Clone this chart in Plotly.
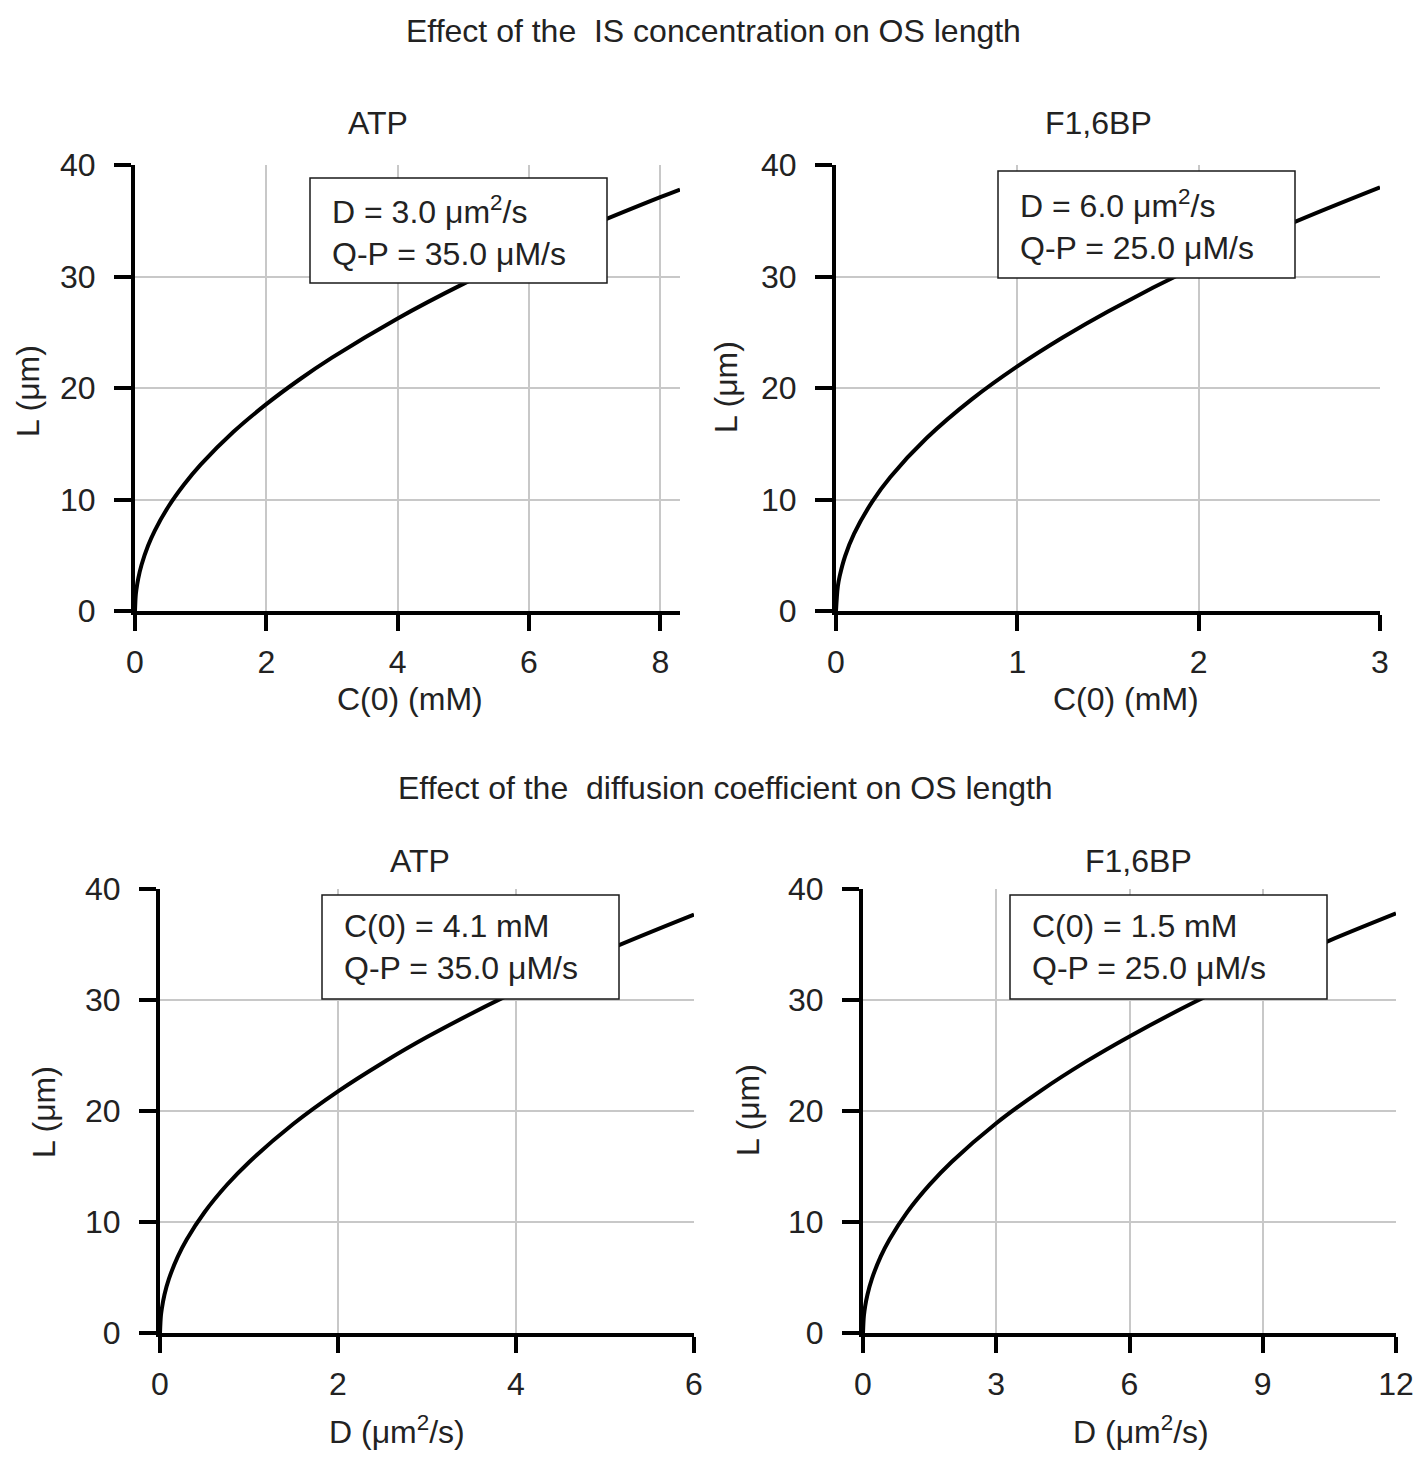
import plotly.graph_objects as go

W, H = 1425, 1457
OFF = 8  # page body margin shifts the figure

# --- data ---
# top left: ATP, L vs C(0)
atp_c0 = [0, 0.01, 0.02, 0.05, 0.1, 0.2, 0.3, 0.5, 0.75, 1, 1.5, 2, 2.5, 3, 4, 5, 6, 7, 8, 8.3]
atp_c0_L = [0, 1.31, 1.86, 2.93, 4.15, 5.87, 7.19, 9.28, 11.36, 13.12, 16.07, 18.55, 20.74,
            22.72, 26.24, 29.34, 32.14, 34.71, 37.11, 37.8]

# top right: F1,6BP, L vs C(0)
fbp_c0 = [0, 0.01, 0.02, 0.05, 0.1, 0.2, 0.3, 0.5, 0.75, 1, 1.25, 1.5, 2, 2.5, 3]
fbp_c0_L = [0, 2.19, 3.10, 4.91, 6.94, 9.81, 12.02, 15.51, 19.0, 21.94, 24.53, 26.87,
            31.03, 34.69, 38.0]

# bottom left: ATP, L vs D
atp_d = [0, 0.01, 0.02, 0.05, 0.1, 0.2, 0.3, 0.5, 0.75, 1, 1.5, 2, 2.5, 3, 4, 5, 6]
atp_d_L = [0, 1.54, 2.17, 3.44, 4.87, 6.88, 8.43, 10.88, 13.33, 15.39, 18.85, 21.77,
           24.33, 26.66, 30.78, 34.41, 37.7]

# bottom right: F1,6BP, L vs D
fbp_d = [0, 0.02, 0.05, 0.1, 0.2, 0.4, 0.6, 1, 1.5, 2, 3, 4, 5, 6, 7.5, 9, 10.5, 12]
fbp_d_L = [0, 1.54, 2.44, 3.45, 4.88, 6.90, 8.45, 10.91, 13.36, 15.43, 18.9, 21.82,
           24.4, 26.72, 29.88, 32.73, 35.35, 37.8]

section_titles = ["Effect of the  IS concentration on OS length",
                  "Effect of the  diffusion coefficient on OS length"]
panel_titles = ["ATP", "F1,6BP", "ATP", "F1,6BP"]
x_titles = ["C(0) (mM)", "C(0) (mM)", "D (μm<sup>2</sup>/s)", "D (μm<sup>2</sup>/s)"]
y_title = "L (μm)"
x_ranges = [[0, 8.3], [0, 3], [0, 6], [0, 12]]
x_dticks = [2, 1, 2, 3]
box_texts = ["D = 3.0 μm<sup>2</sup>/s<br>Q-P = 35.0 μM/s",
             "D = 6.0 μm<sup>2</sup>/s<br>Q-P = 25.0 μM/s",
             "C(0) = 4.1 mM<br>Q-P = 35.0 μM/s",
             "C(0) = 1.5 mM<br>Q-P = 25.0 μM/s"]

series = [(atp_c0, atp_c0_L), (fbp_c0, fbp_c0_L), (atp_d, atp_d_L), (fbp_d, fbp_d_L)]

# layout in page pixels: plot areas (left, right, top, bottom), boxes, text centres
areas = [(135, 680, 165, 611), (836, 1380, 165, 611),
         (160, 694, 889, 1333), (863, 1396, 889, 1333)]
boxes = [(310, 607, 178, 283), (998, 1295, 171, 278),
         (322, 619, 895, 999), (1010, 1327, 895, 999)]
panel_title_pos = [(378, 123), (1098, 123), (420, 861), (1138, 861)]
x_title_pos = [(410, 699), (1126, 699), (397, 1430), (1141, 1430)]
y_title_pos = [(28, 391), (726, 387), (44, 1112), (748, 1110)]
section_pos = [(713, 31), (725, 788)]


def px(x):
    return (x - OFF) / W


def py(y):
    return 1 - (y - OFF) / H


FONT = "Liberation Sans, Arial, sans-serif"
INK = "#222222"
FS = 32


def label(text, x, y, **kw):
    return dict(text=text, x=px(x), y=py(y), xref="paper", yref="paper", showarrow=False,
                xanchor="center", yanchor="middle", font=dict(size=FS), **kw)


fig = go.Figure()
layout = dict(
    width=W, height=H,
    margin=dict(l=0, r=0, t=0, b=0, pad=0),
    plot_bgcolor="white", paper_bgcolor="white",
    showlegend=False,
    font=dict(family=FONT, color=INK, size=FS),
)
annotations = []
shapes = []

for i, ((xs, ys), (l, r, t, b)) in enumerate(zip(series, areas)):
    n = "" if i == 0 else str(i + 1)
    fig.add_trace(go.Scatter(x=xs, y=ys, mode="lines", line=dict(color="black", width=4, shape="spline"),
                             xaxis="x" + n, yaxis="y" + n, hoverinfo="skip"))
    layout["xaxis" + n] = dict(
        domain=[px(l), px(r)], anchor="y" + n, range=x_ranges[i], dtick=x_dticks[i], tick0=0,
        automargin=False,
        showline=True, linewidth=4, linecolor="black",
        ticks="outside", ticklen=16, tickwidth=4, tickcolor="black", ticklabelstandoff=4,
        showgrid=True, gridcolor="#c8c8c8", gridwidth=2, zeroline=False,
        tickfont=dict(size=FS),
    )
    layout["yaxis" + n] = dict(
        domain=[py(b), py(t)], anchor="x" + n, range=[0, 40], dtick=10,
        automargin=False,
        showline=True, linewidth=4, linecolor="black",
        ticks="outside", ticklen=17, tickwidth=4, tickcolor="black", ticklabelstandoff=12,
        showgrid=True, gridcolor="#c8c8c8", gridwidth=2, zeroline=False,
        tickfont=dict(size=FS),
    )
    annotations.append(label(panel_titles[i], *panel_title_pos[i]))
    annotations.append(label(x_titles[i], *x_title_pos[i]))
    annotations.append(label(y_title, *y_title_pos[i], textangle=-90))
    # parameter box
    bl, br, bt, bb = boxes[i]
    shapes.append(dict(type="rect", xref="paper", yref="paper", x0=px(bl), x1=px(br),
                       y0=py(bb), y1=py(bt), fillcolor="white", layer="above",
                       line=dict(color="#1a1a1a", width=1.5)))
    annotations.append(dict(text=box_texts[i], x=px(bl + 20), y=py((bt + bb) / 2), xref="paper",
                            yref="paper", showarrow=False, xanchor="left", yanchor="middle",
                            align="left", font=dict(size=FS)))

for txt, pos in zip(section_titles, section_pos):
    annotations.append(label(txt, *pos))

layout["annotations"] = annotations
layout["shapes"] = shapes
fig.update_layout(**layout)

fig.write_html("out.html")
